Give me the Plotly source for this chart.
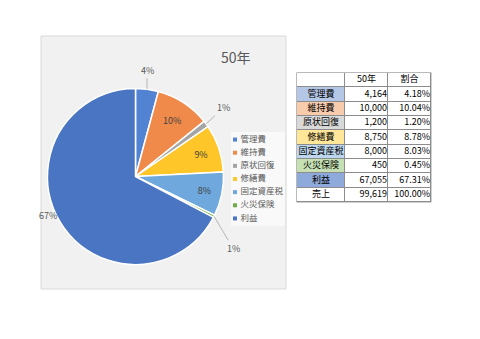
import math
import plotly.graph_objects as go

# 50年 cost breakdown
items = ["管理費", "維持費", "原状回復", "修繕費", "固定資産税", "火災保険", "利益"]
amounts = [4164, 10000, 1200, 8750, 8000, 450, 67055]
pct_labels = ["4%", "10%", "1%", "9%", "8%", "1%", "67%"]
slice_colors = ["#5283d3", "#f08a4b", "#a5a5a5", "#ffc629", "#6ea8dd", "#70ad47", "#4a75c2"]

# table contents
table_header = ["", "50年", "割合"]
table_items = items + ["売上"]
table_amounts = ["4,164", "10,000", "1,200", "8,750", "8,000", "450", "67,055", "99,619"]
table_pcts = ["4.18%", "10.04%", "1.20%", "8.78%", "8.03%", "0.45%", "67.31%", "100.00%"]
row_fills = ["#b4c7e7", "#f8cbad", "#d9d9d9", "#ffe699", "#bdd7ee", "#c6e0b4", "#8eaadb", "#ffffff"]

W, H = 480, 339
FONT = "Noto Sans CJK JP"
GREY_TXT = "#595959"

# pie geometry (pixels)
PIE_CX, PIE_CY, PIE_R = 135.5, 176.5, 88.0

# outside labels: slice index -> (dx, dy) pixel offset of text from slice edge, leader line?
outside = {0: (0, -19, True), 2: (17, -16, True), 5: (19, 32, True), 6: (-12, -7, False)}

fig = go.Figure()

fig.add_trace(go.Pie(
    labels=items,
    values=amounts,
    text=[pct_labels[i] if i not in outside else "" for i in range(len(items))],
    textinfo="text",
    textposition=["none" if i in outside else "inside" for i in range(len(items))],
    sort=False,
    direction="clockwise",
    rotation=0,
    marker=dict(colors=slice_colors, line=dict(color="white", width=1.5)),
    textfont=dict(family=FONT, size=9, color="#404040"),
    insidetextorientation="horizontal",
    domain=dict(x=[(PIE_CX - PIE_R) / W, (PIE_CX + PIE_R) / W],
                y=[1 - (PIE_CY + PIE_R) / H, 1 - (PIE_CY - PIE_R) / H]),
    showlegend=False,
    hoverinfo="label+value+percent",
))

# outside percentage labels placed from each slice's mid-angle
total = sum(amounts)
annotations = []
cum = 0
for i, v in enumerate(amounts):
    mid = (cum + v / 2) / total * 2 * math.pi
    cum += v
    if i not in outside:
        continue
    ex = PIE_CX + PIE_R * math.sin(mid)
    ey = PIE_CY - PIE_R * math.cos(mid)
    dx, dy, line = outside[i]
    annotations.append(dict(
        text=pct_labels[i], xref="paper", yref="paper",
        x=ex / W, y=1 - ey / H, ax=dx, ay=dy,
        showarrow=True, arrowhead=0, arrowwidth=0.8,
        arrowcolor="#a6a6a6" if line else "rgba(0,0,0,0)",
        standoff=0, startstandoff=0,
        font=dict(family=FONT, size=9, color=GREY_TXT),
    ))

annotations.append(dict(
    text="50年", xref="paper", yref="paper",
    x=236 / W, y=1 - 57 / H, xanchor="center", yanchor="middle",
    showarrow=False, font=dict(family=FONT, size=14, color=GREY_TXT),
))

# legend: small square markers with category names
n = len(items)
fig.add_trace(go.Scatter(
    x=[0] * n, y=list(range(n)), mode="markers",
    marker=dict(symbol="square", size=4, color=slice_colors),
    xaxis="x2", yaxis="y2", hoverinfo="skip", showlegend=False, cliponaxis=False,
))
fig.add_trace(go.Scatter(
    x=[5.5] * n, y=list(range(n)), mode="text",
    text=items, textposition="middle right",
    textfont=dict(family=FONT, size=8.5, color=GREY_TXT),
    xaxis="x2", yaxis="y2", hoverinfo="skip", showlegend=False, cliponaxis=False,
))

# table drawn as heatmap bricks over a grey underlay (gaps form the grid lines)
col_edges = [0, 48, 91, 134]
ROW_H = 14.33
n_rows = len(table_items) + 1
row_edges = [r * ROW_H for r in range(n_rows + 1)]
tbl_h = row_edges[-1]

palette = ["#ffffff"] + row_fills[:-1]
z = [[0, 0, 0]]
for f in row_fills:
    z.append([palette.index(f), 0, 0])
colorscale = [[k / (len(palette) - 1), c] for k, c in enumerate(palette)]

fig.add_trace(go.Heatmap(
    z=[[0]], x=[-0.6, col_edges[-1] + 0.6], y=[-0.6, tbl_h + 0.6],
    colorscale=[[0, "#8c8c8c"], [1, "#8c8c8c"]], showscale=False,
    hoverinfo="skip", xaxis="x", yaxis="y",
))
fig.add_trace(go.Heatmap(
    z=z, x=col_edges, y=row_edges, colorscale=colorscale,
    zmin=0, zmax=len(palette) - 1, showscale=False,
    xgap=1, ygap=1, hoverinfo="skip", xaxis="x", yaxis="y",
))

row_mid = [(row_edges[r] + row_edges[r + 1]) / 2 for r in range(n_rows)]
col_mid = [(col_edges[c] + col_edges[c + 1]) / 2 for c in range(3)]
tfont = dict(family=FONT, size=9, color="#000000")
# header row
fig.add_trace(go.Scatter(
    x=col_mid[1:], y=[row_mid[0]] * 2, mode="text", text=table_header[1:],
    textposition="middle center", textfont=tfont,
    xaxis="x", yaxis="y", hoverinfo="skip", showlegend=False, cliponaxis=False,
))
# item column
fig.add_trace(go.Scatter(
    x=[col_mid[0]] * len(table_items), y=row_mid[1:], mode="text", text=table_items,
    textposition="middle center", textfont=tfont,
    xaxis="x", yaxis="y", hoverinfo="skip", showlegend=False, cliponaxis=False,
))
# numeric columns, right aligned
for c, vals in ((1, table_amounts), (2, table_pcts)):
    fig.add_trace(go.Scatter(
        x=[col_edges[c + 1] - 1] * len(vals), y=row_mid[1:], mode="text", text=vals,
        textposition="middle left", textfont=tfont,
        xaxis="x", yaxis="y", hoverinfo="skip", showlegend=False, cliponaxis=False,
    ))

TBL_L, TBL_T = 297, 73
hidden = dict(visible=False, showgrid=False, zeroline=False, fixedrange=True)

fig.update_layout(
    width=W,
    height=H,
    margin=dict(l=0, r=0, t=0, b=0),
    paper_bgcolor="white",
    plot_bgcolor="rgba(0,0,0,0)",
    font=dict(family=FONT, color=GREY_TXT),
    showlegend=False,
    xaxis=dict(hidden, range=[-1, col_edges[-1] + 1],
               domain=[(TBL_L - 1) / W, (TBL_L + col_edges[-1] + 1) / W]),
    yaxis=dict(hidden, range=[tbl_h + 1, -1],
               domain=[1 - (TBL_T + tbl_h + 1) / H, 1 - (TBL_T - 1) / H]),
    xaxis2=dict(hidden, range=[0, 50], domain=[235 / W, 285 / W]),
    yaxis2=dict(hidden, range=[n - 0.5, -0.5], domain=[1 - 225 / H, 1 - 133 / H]),
    shapes=[
        dict(type="rect", xref="paper", yref="paper",
             x0=41 / W, x1=286 / W, y0=1 - 289 / H, y1=1 - 36 / H,
             fillcolor="#f1f1f1", line=dict(color="#d9d9d9", width=1), layer="below"),
        dict(type="rect", xref="paper", yref="paper",
             x0=231 / W, x1=285 / W, y0=1 - 226 / H, y1=1 - 132 / H,
             fillcolor="rgba(255,255,255,0.55)", line=dict(width=0), layer="below"),
    ],
    annotations=annotations,
)

fig.write_html("out.html")
